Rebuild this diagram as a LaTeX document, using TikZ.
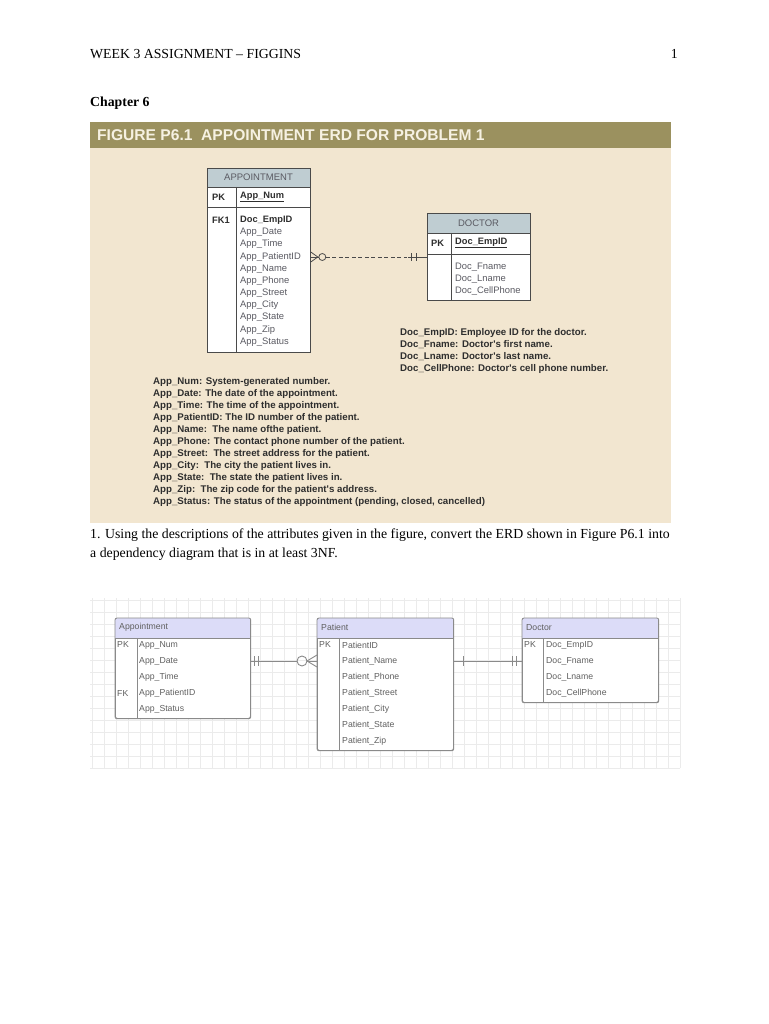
\documentclass[tikz,border=0pt]{standalone}
\usepackage{fontspec}
\setmainfont{Liberation Serif}
\newfontfamily\arial{Liberation Sans}
\usetikzlibrary{calc}
\definecolor{beige}{HTML}{F2E6D0}
\definecolor{bandolive}{HTML}{9B915F}
\definecolor{bandtext}{HTML}{F6F1E2}
\definecolor{hdrblue}{HTML}{BFCDD2}
\definecolor{erdline}{HTML}{4A4A4A}
\definecolor{erdtext}{HTML}{5A5A62}
\definecolor{notetext}{HTML}{2E2E2E}
\definecolor{lav}{HTML}{DCDCF8}
\definecolor{boxgray}{HTML}{8A8A8A}
\definecolor{lowtext}{HTML}{606060}
\definecolor{gridcol}{HTML}{EBEBEB}
\tikzset{
  pagetext/.style={anchor=base west, inner sep=0, font=\fontsize{13.8}{16}\selectfont},
  qtext/.style={anchor=base west, inner sep=0, font=\fontsize{13.8}{16}\selectfont},
  ent/.style={draw=erdline, line width=0.8pt, fill=white, inner sep=0, anchor=north west},
  rowtxt/.style={anchor=west, inner sep=0, text=erdtext, font=\arial\fontsize{9.4}{10}\selectfont},
  rowbold/.style={anchor=west, inner sep=0, text=notetext, font=\arial\bfseries\fontsize{9.3}{10}\selectfont},
  hdrtxt/.style={anchor=center, inner sep=0, text=erdtext, font=\arial\fontsize{9.5}{10}\selectfont},
  note/.style={anchor=west, inner sep=0, text=notetext, font=\arial\bfseries\fontsize{9.7}{10}\selectfont},
  lent/.style={draw=boxgray, line width=0.8pt, rounded corners=2pt, inner sep=0, anchor=north west},
  ltxt/.style={anchor=west, inner sep=0, text=lowtext, font=\arial\fontsize{8.7}{10}\selectfont},
  lline/.style={draw=boxgray, line width=0.9pt},
}
\begin{document}
\begin{tikzpicture}[x=1pt,y=-1pt]
\useasboundingbox (0,0) rectangle (768,1024);
\fill[white] (0,0) rectangle (768,1024);

% page header
\node[pagetext] (hdr) at (90,59) {WEEK 3 ASSIGNMENT – FIGGINS};
\node[pagetext, anchor=base east] (pg) at (678,59) {1};
\node[pagetext, font=\bfseries\fontsize{13.8}{16}\selectfont] (chap) at (90,107) {Chapter 6};

% figure panel
\fill[beige] (90,122) rectangle (671,523);
\fill[bandolive] (90,122) rectangle (671,148);
\node[anchor=west, inner sep=0, text=bandtext, font=\arial\bfseries\fontsize{15.6}{16}\selectfont] (ftitle) at (97,135.5) {FIGURE P6.1\ \ APPOINTMENT ERD FOR PROBLEM 1};

% APPOINTMENT entity
\node[ent, minimum width=103pt, minimum height=184pt] (apt) at (207,168) {};
\fill[hdrblue] (207,168) rectangle (310,187);
\draw[erdline, line width=0.8pt] (apt.north west) rectangle (apt.south east);
\draw[erdline, line width=0.8pt] (207,187) -- (310,187) (207,207) -- (310,207) (236,187) -- (236,352);
\node[hdrtxt] (apth) at (258.5,177.5) {APPOINTMENT};
\node[rowbold] (aptpk) at (212,197) {PK};
\node[rowbold] (aptnum) at (240,197) {\underline{App\_Num}};
\node[rowbold] (aptfk) at (212,220) {FK1};
\node[rowbold] (a1) at (240,220) {Doc\_EmpID};
\node[rowtxt] (a2) at (240,232.2) {App\_Date};
\node[rowtxt] (a3) at (240,244.4) {App\_Time};
\node[rowtxt] (a4) at (240,256.6) {App\_PatientID};
\node[rowtxt] (a5) at (240,268.8) {App\_Name};
\node[rowtxt] (a6) at (240,281) {App\_Phone};
\node[rowtxt] (a7) at (240,293.2) {App\_Street};
\node[rowtxt] (a8) at (240,305.4) {App\_City};
\node[rowtxt] (a9) at (240,317.6) {App\_State};
\node[rowtxt] (a10) at (240,329.8) {App\_Zip};
\node[rowtxt] (a11) at (240,342) {App\_Status};

% DOCTOR entity
\node[ent, minimum width=103pt, minimum height=87pt] (doc) at (427,213) {};
\fill[hdrblue] (427,213) rectangle (530,233);
\draw[erdline, line width=0.8pt] (doc.north west) rectangle (doc.south east);
\draw[erdline, line width=0.8pt] (427,233) -- (530,233) (427,254) -- (530,254) (451,233) -- (451,300);
\node[hdrtxt] (doch) at (478.5,223) {DOCTOR};
\node[rowbold] (docpk) at (431,243) {PK};
\node[rowbold] (docid) at (455,243) {\underline{Doc\_EmpID}};
\node[rowtxt] (d1) at (455,267) {Doc\_Fname};
\node[rowtxt] (d2) at (455,279) {Doc\_Lname};
\node[rowtxt] (d3) at (455,291) {Doc\_CellPhone};

% relationship APPOINTMENT >O----H- DOCTOR
\coordinate (r1) at (apt.east |- 0,257);
\coordinate (r2) at (doc.west |- 0,257);
\draw[erdline, line width=0.8pt] ($(r1)+(0,-5)$) -- ($(r1)+(7,0)$) -- ($(r1)+(0,5)$);
\draw[erdline, line width=0.8pt] (r1) -- ($(r1)+(8,0)$);
\draw[erdline, line width=0.8pt] ($(r1)+(11.5,0)$) circle (3.5pt);
\draw[erdline, line width=0.8pt, dash pattern=on 4pt off 2.5pt] ($(r1)+(15,0)$) -- ($(r2)+(-20,0)$);
\draw[erdline, line width=0.8pt] ($(r2)+(-19,0)$) -- (r2);
\draw[erdline, line width=0.8pt] ($(r2)+(-16,-4)$) -- ($(r2)+(-16,4)$) ($(r2)+(-11,-4)$) -- ($(r2)+(-11,4)$);

% notes
\node[note] (n1) at (400,333) {Doc\_EmpID: Employee ID for the doctor.};
\node[note] (n2) at (400,345) {Doc\_Fname: Doctor's first name.};
\node[note] (n3) at (400,357) {Doc\_Lname: Doctor's last name.};
\node[note] (n4) at (400,369) {Doc\_CellPhone: Doctor's cell phone number.};

\node[note] (m1) at (153,382) {App\_Num: System-generated number.};
\node[note] (m2) at (153,394) {App\_Date: The date of the appointment.};
\node[note] (m3) at (153,406) {App\_Time: The time of the appointment.};
\node[note] (m4) at (153,418) {App\_PatientID: The ID number of the patient.};
\node[note] (m5) at (153,430) {App\_Name:\ \ The name ofthe patient.};
\node[note] (m6) at (153,442) {App\_Phone: The contact phone number of the patient.};
\node[note] (m7) at (153,454) {App\_Street:\ \ The street address for the patient.};
\node[note] (m8) at (153,466) {App\_City:\ \ The city the patient lives in.};
\node[note] (m9) at (153,478) {App\_State:\ \ The state the patient lives in.};
\node[note] (m10) at (153,490) {App\_Zip:\ \ The zip code for the patient's address.};
\node[note] (m11) at (153,502) {App\_Status: The status of the appointment (pending, closed, cancelled)};

% question
\node[qtext] (q1) at (90,538) {1. Using the descriptions of the attributes given in the figure, convert the ERD shown in Figure P6.1 into};
\node[qtext] (q2) at (90,557) {a dependency diagram that is in at least 3NF.};

% grid
\foreach \gx in {92,104,...,680} {\draw[gridcol, line width=0.5pt] (\gx,598) -- (\gx,768);}
\foreach \gy in {600,612,...,768} {\draw[gridcol, line width=0.5pt] (90,\gy) -- (680,\gy);}

% lower: Appointment
\node[lent, fill=white, minimum width=135pt, minimum height=100pt] (la) at (115,618) {};
\begin{scope}
\clip[rounded corners=2pt] (la.north west) rectangle (la.south east);
\fill[lav] (115,618) rectangle (250,638);
\end{scope}
\draw[boxgray, line width=0.8pt, rounded corners=2pt] (la.north west) rectangle (la.south east);
\draw[boxgray, line width=0.8pt] (115,638) -- (250,638) (137,638) -- (137,718);
\node[ltxt] (lah) at (119,627.5) {Appointment};
\node[ltxt] (lapk) at (117,645) {PK};
\node[ltxt] (la1) at (139,645) {App\_Num};
\node[ltxt] (la2) at (139,661) {App\_Date};
\node[ltxt] (la3) at (139,677) {App\_Time};
\node[ltxt] (lafk) at (117,693) {FK};
\node[ltxt] (la4) at (139,693) {App\_PatientID};
\node[ltxt] (la5) at (139,709) {App\_Status};

% lower: Patient
\node[lent, fill=white, minimum width=136pt, minimum height=132pt] (lp) at (317,618) {};
\begin{scope}
\clip[rounded corners=2pt] (lp.north west) rectangle (lp.south east);
\fill[lav] (317,618) rectangle (453,638);
\end{scope}
\draw[boxgray, line width=0.8pt, rounded corners=2pt] (lp.north west) rectangle (lp.south east);
\draw[boxgray, line width=0.8pt] (317,638) -- (453,638) (339,638) -- (339,750);
\node[ltxt] (lph) at (321,627.5) {Patient};
\node[ltxt] (lppk) at (319,645) {PK};
\node[ltxt] (lp1) at (342,645) {PatientID};
\node[ltxt] (lp2) at (342,661) {Patient\_Name};
\node[ltxt] (lp3) at (342,677) {Patient\_Phone};
\node[ltxt] (lp4) at (342,693) {Patient\_Street};
\node[ltxt] (lp5) at (342,709) {Patient\_City};
\node[ltxt] (lp6) at (342,725) {Patient\_State};
\node[ltxt] (lp7) at (342,741) {Patient\_Zip};

% lower: Doctor
\node[lent, fill=white, minimum width=136pt, minimum height=84pt] (ld) at (522,618) {};
\begin{scope}
\clip[rounded corners=2pt] (ld.north west) rectangle (ld.south east);
\fill[lav] (522,618) rectangle (658,638);
\end{scope}
\draw[boxgray, line width=0.8pt, rounded corners=2pt] (ld.north west) rectangle (ld.south east);
\draw[boxgray, line width=0.8pt] (522,638) -- (658,638) (543,638) -- (543,702);
\node[ltxt] (ldh) at (526,627.5) {Doctor};
\node[ltxt] (ldpk) at (524,645) {PK};
\node[ltxt] (ld1) at (546,645) {Doc\_EmpID};
\node[ltxt] (ld2) at (546,661) {Doc\_Fname};
\node[ltxt] (ld3) at (546,677) {Doc\_Lname};
\node[ltxt] (ld4) at (546,693) {Doc\_CellPhone};

% lower relationship Appointment ||----O< Patient
\coordinate (s1) at (la.east |- 0,661);
\coordinate (s2) at (lp.west |- 0,661);
\draw[lline] (s1) -- ($(s2)+(-20,0)$);
\draw[lline] ($(s1)+(4,-5)$) -- ($(s1)+(4,5)$) ($(s1)+(8,-5)$) -- ($(s1)+(8,5)$);
\draw[lline] ($(s2)+(-15,0)$) circle (5pt);
\draw[lline] ($(s2)+(0,-6)$) -- ($(s2)+(-10,0)$) -- ($(s2)+(0,6)$);
\draw[lline] ($(s2)+(-10,0)$) -- (s2);

% lower relationship Patient |----|| Doctor
\coordinate (t1) at (lp.east |- 0,661);
\coordinate (t2) at (ld.west |- 0,661);
\draw[lline] (t1) -- (t2);
\draw[lline] ($(t1)+(10,-5)$) -- ($(t1)+(10,5)$);
\draw[lline] ($(t2)+(-10,-5)$) -- ($(t2)+(-10,5)$) ($(t2)+(-6,-5)$) -- ($(t2)+(-6,5)$);
\end{tikzpicture}
\end{document}
